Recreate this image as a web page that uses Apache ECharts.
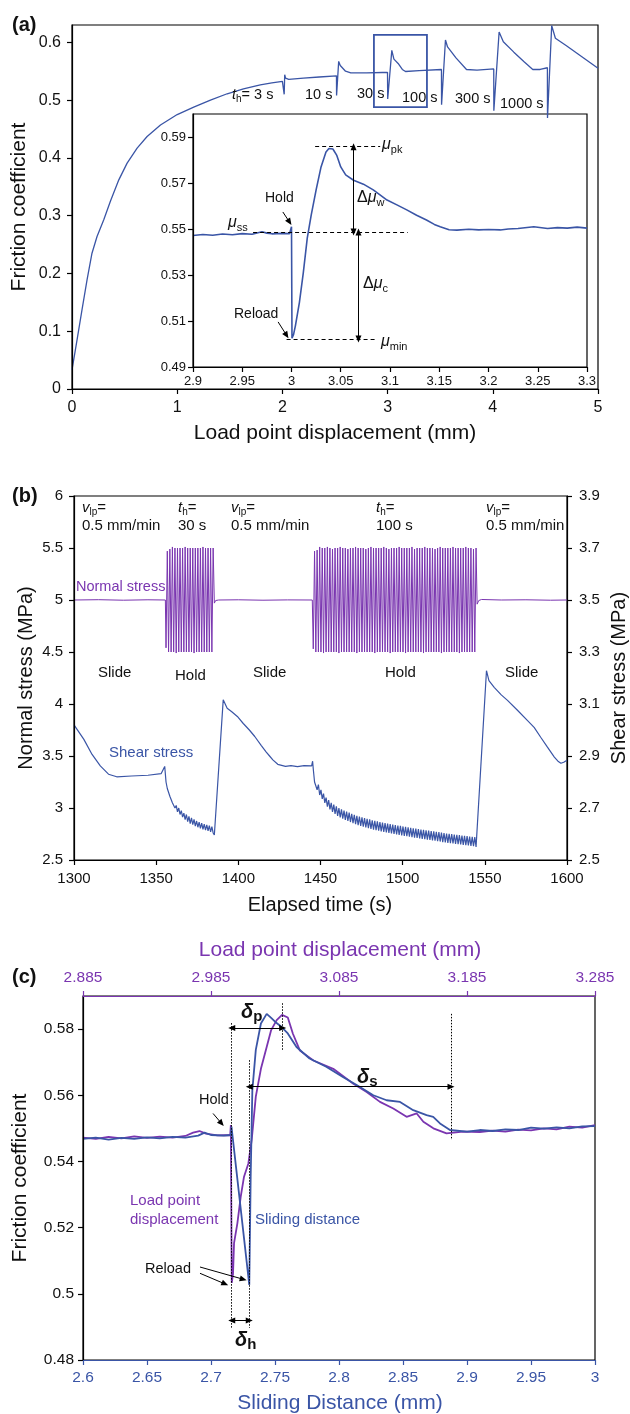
<!DOCTYPE html>
<html>
<head>
<meta charset="utf-8">
<script src="https://cdn.jsdelivr.net/npm/echarts@6/dist/echarts.min.js"></script>
<style>
  html, body { margin: 0; padding: 0; background: #fff; }
  #chart { width: 630px; height: 1414px; }
</style>
</head>
<body>
<div id="chart"></div>
<script>
// ---------- panel (a): friction vs load point displacement ----------
const aDisp = [0, 0.048, 0.095, 0.143, 0.19, 0.238, 0.302, 0.365, 0.445, 0.524, 0.619, 0.714, 0.841, 1.0, 1.157, 1.316, 1.475, 1.63, 1.79, 1.9, 2.0, 2.016,
  2.017, 2.022, 2.03, 2.06, 2.2, 2.35, 2.514,
  2.515, 2.535, 2.55, 2.6, 2.65, 2.8, 2.95, 2.999,
  3.0, 3.001, 3.04, 3.06, 3.1, 3.14, 3.17, 3.3, 3.512,
  3.513, 3.55, 3.57, 3.65, 3.75, 3.85, 4.009,
  4.01, 4.06, 4.1, 4.2, 4.3, 4.38, 4.45, 4.519,
  4.52, 4.56, 4.595, 4.7, 4.8, 4.9, 5.0];
const aFric = [0.033, 0.085, 0.137, 0.189, 0.235, 0.264, 0.293, 0.325, 0.362, 0.391, 0.417, 0.437, 0.457, 0.475, 0.488, 0.5, 0.511, 0.5195, 0.5265, 0.53, 0.5325, 0.533,
  0.510, 0.544, 0.538, 0.536, 0.538, 0.540, 0.542,
  0.508, 0.567, 0.560, 0.550, 0.547, 0.5472, 0.5478, 0.548,
  0.551, 0.502, 0.586, 0.571, 0.5635, 0.553, 0.5495, 0.551, 0.553,
  0.492, 0.604, 0.592, 0.573, 0.553, 0.552, 0.554,
  0.4815, 0.618, 0.601, 0.583, 0.566, 0.553, 0.553, 0.556,
  0.469, 0.629, 0.607, 0.594, 0.581, 0.568, 0.555];
const holdNames = ['3 s', '10 s', '30 s', '100 s', '300 s', '1000 s'];
const aXTicks = [0, 1, 2, 3, 4, 5];
const aYTicks = [0, 0.1, 0.2, 0.3, 0.4, 0.5, 0.6];

// inset of (a)
const insetDisp = [2.9, 2.91, 2.92, 2.93, 2.94, 2.95, 2.96, 2.965, 2.97, 2.975, 2.98, 2.99, 2.998, 3.0, 3.0005, 3.002, 3.004, 3.008, 3.012, 3.016,
  3.02, 3.025, 3.03, 3.035, 3.038, 3.042, 3.046, 3.05, 3.055, 3.063, 3.073, 3.083, 3.097, 3.107, 3.117, 3.127, 3.137, 3.145, 3.151, 3.16,
  3.168, 3.18, 3.19, 3.2, 3.212, 3.22, 3.23, 3.246, 3.26, 3.27, 3.28, 3.29, 3.3];
const insetFric = [0.5472, 0.5476, 0.5473, 0.5478, 0.5475, 0.548, 0.5477, 0.5483, 0.5488, 0.5482, 0.5479, 0.5481, 0.548, 0.551, 0.5025, 0.504, 0.508, 0.518, 0.531, 0.546,
  0.556, 0.567, 0.577, 0.5835, 0.585, 0.5848, 0.582, 0.577, 0.5735, 0.5712, 0.5695, 0.567, 0.5626, 0.5605, 0.5583, 0.556, 0.5539, 0.552, 0.551, 0.5497,
  0.5495, 0.5499, 0.5496, 0.5498, 0.5496, 0.55, 0.5502, 0.551, 0.5502, 0.5506, 0.5504, 0.5508, 0.5504];
const insetXTicks = [2.9, 2.95, 3, 3.05, 3.1, 3.15, 3.2, 3.25, 3.3];
const insetYTicks = [0.49, 0.51, 0.53, 0.55, 0.57, 0.59];

// ---------- panel (b): stresses vs elapsed time ----------
const normSlide1T = [1300, 1315, 1330, 1345, 1355.6];
const normSlide1V = [5.0, 5.003, 4.998, 5.002, 5.0];
const normSlide2T = [1385.4, 1386.2, 1388, 1400, 1415, 1430, 1445.0];
const normSlide2V = [4.97, 4.995, 5.0, 5.002, 4.998, 5.001, 5.0];
const normSlide3T = [1545.3, 1546.3, 1548, 1560, 1575, 1590, 1600];
const normSlide3V = [4.96, 4.995, 5.005, 5.0, 5.002, 4.998, 5.0];

const hold1Start = 1356.0, hold1Step = 0.775;
const hold1Normal = [4.54, 5.47, 4.5, 5.49, 4.5, 5.51, 4.5, 5.5, 4.49, 5.5, 4.5, 5.5, 4.5, 5.5, 4.5, 5.51, 4.5, 5.5, 4.5,
  5.5, 4.5, 5.5, 4.49, 5.5, 4.5, 5.5, 4.5, 5.5, 4.5, 5.51, 4.5, 5.5, 4.5, 5.5, 4.5, 5.5, 4.5, 5.5];
const hold1Shear = [2.80, 2.775, 2.77, 2.745, 2.745, 2.72, 2.725, 2.70, 2.71, 2.685, 2.70, 2.675, 2.69, 2.665, 2.68, 2.655, 2.675, 2.648, 2.668,
  2.64, 2.662, 2.636, 2.656, 2.63, 2.65, 2.626, 2.646, 2.622, 2.642, 2.618, 2.638, 2.615, 2.635, 2.612, 2.632, 2.608, 2.628, 2.604];

const hold2Start = 1445.6, hold2Step = 0.78;
const hold2Normal = [
  4.53, 5.47, 4.5, 5.48, 4.5, 5.51, 4.5, 5.5, 4.49, 5.5, 4.5, 5.51, 4.5, 5.5, 4.5, 5.49,
  4.5, 5.5, 4.5, 5.5, 4.49, 5.51, 4.5, 5.5, 4.5, 5.5, 4.5, 5.49, 4.5, 5.5, 4.5, 5.5,
  4.5, 5.51, 4.49, 5.5, 4.5, 5.5, 4.5, 5.5, 4.5, 5.49, 4.5, 5.5, 4.5, 5.51, 4.5, 5.5,
  4.49, 5.5, 4.5, 5.5, 4.5, 5.5, 4.5, 5.51, 4.5, 5.5, 4.5, 5.49, 4.49, 5.5, 4.5, 5.5,
  4.5, 5.5, 4.5, 5.51, 4.5, 5.5, 4.5, 5.5, 4.49, 5.5, 4.5, 5.5, 4.5, 5.51, 4.5, 5.49,
  4.5, 5.5, 4.5, 5.5, 4.5, 5.5, 4.49, 5.51, 4.5, 5.5, 4.5, 5.5, 4.5, 5.5, 4.5, 5.49,
  4.5, 5.5, 4.5, 5.51, 4.49, 5.5, 4.5, 5.5, 4.5, 5.5, 4.5, 5.5, 4.5, 5.51, 4.5, 5.5,
  4.5, 5.5, 4.49, 5.5, 4.5, 5.5, 4.5, 5.51, 4.5, 5.5, 4.5, 5.5, 4.5, 5.49, 4.5, 5.5];
const hold2Shear = [
  2.85, 2.80, 2.80, 2.77, 2.79, 2.75, 2.77, 2.735, 2.755, 2.72, 2.74, 2.705, 2.73, 2.695, 2.72, 2.685,
  2.713, 2.677, 2.706, 2.67, 2.70, 2.664, 2.695, 2.659, 2.69, 2.654, 2.686, 2.65, 2.682, 2.646, 2.678, 2.642,
  2.674, 2.638, 2.670, 2.634, 2.667, 2.631, 2.664, 2.628, 2.661, 2.625, 2.658, 2.622, 2.656, 2.620, 2.653, 2.617,
  2.651, 2.615, 2.649, 2.613, 2.646, 2.610, 2.644, 2.608, 2.642, 2.606, 2.640, 2.604, 2.638, 2.602, 2.636, 2.600,
  2.634, 2.598, 2.632, 2.596, 2.631, 2.595, 2.629, 2.593, 2.628, 2.592, 2.626, 2.590, 2.624, 2.588, 2.622, 2.586,
  2.621, 2.585, 2.619, 2.583, 2.617, 2.581, 2.616, 2.580, 2.614, 2.578, 2.613, 2.577, 2.611, 2.575, 2.610, 2.574,
  2.608, 2.572, 2.607, 2.571, 2.605, 2.569, 2.604, 2.568, 2.602, 2.566, 2.601, 2.565, 2.600, 2.564, 2.598, 2.562,
  2.597, 2.561, 2.596, 2.560, 2.594, 2.558, 2.593, 2.557, 2.592, 2.556, 2.590, 2.554, 2.589, 2.553, 2.588, 2.550];

const shearSlide1T = [1300, 1306, 1311, 1316, 1321, 1326, 1335, 1345, 1353, 1355.2];
const shearSlide1V = [3.02, 2.964, 2.906, 2.862, 2.83, 2.82, 2.823, 2.826, 2.832, 2.86];
const shearSlide2T = [1385.4, 1390.8, 1393.2, 1396, 1399.4, 1403, 1406.7, 1410, 1414, 1417, 1419, 1421, 1424, 1428.7, 1432, 1436, 1440, 1444.6, 1445.2];
const shearSlide2V = [2.596, 3.116, 3.084, 3.07, 3.052, 3.025, 3.0, 2.975, 2.94, 2.915, 2.9, 2.885, 2.868, 2.86, 2.863, 2.859, 2.863, 2.862, 2.88];
const shearSlide3T = [1545.2, 1551, 1552.5, 1555.7, 1560, 1563.8, 1570, 1576, 1580, 1584, 1588, 1592.3, 1594.5, 1596.3, 1598, 1600];
const shearSlide3V = [2.552, 3.228, 3.19, 3.164, 3.135, 3.114, 3.075, 3.036, 3.01, 2.972, 2.935, 2.896, 2.88, 2.872, 2.876, 2.884];

const bXTicks = [1300, 1350, 1400, 1450, 1500, 1550, 1600];
const bLeftTicks = [2.5, 3, 3.5, 4, 4.5, 5, 5.5, 6];
const bRightTicks = [2.5, 2.7, 2.9, 3.1, 3.3, 3.5, 3.7, 3.9];

// ---------- panel (c): friction vs sliding distance / load point displacement ----------
const cBlueX = [2.6, 2.61, 2.62, 2.63, 2.64, 2.65, 2.66, 2.67, 2.68, 2.69, 2.695, 2.7, 2.71, 2.7155, 2.716, 2.7299, 2.731, 2.7323, 2.735, 2.739,
  2.7435, 2.747, 2.751, 2.755, 2.76, 2.7668, 2.777, 2.79, 2.803, 2.8138, 2.8268, 2.8372, 2.8477, 2.858, 2.8684, 2.8736, 2.8789, 2.8867, 2.9, 2.91,
  2.92, 2.93, 2.94, 2.95, 2.96, 2.97, 2.98, 2.99, 3.0];
const cBlueY = [0.5468, 0.5472, 0.5466, 0.5471, 0.5468, 0.5473, 0.547, 0.5474, 0.5472, 0.5478, 0.5487, 0.548, 0.5478, 0.548, 0.5505, 0.5027, 0.5354, 0.5615, 0.5737, 0.5817,
  0.5846, 0.5834, 0.5819, 0.5807, 0.5787, 0.5746, 0.5711, 0.5686, 0.5655, 0.5631, 0.56, 0.5585, 0.558, 0.5555, 0.554, 0.5535, 0.5515, 0.5495, 0.549, 0.5495,
  0.5492, 0.5497, 0.5495, 0.5502, 0.5499, 0.5503, 0.55, 0.5506, 0.5507];
const cPurpleX = [2.885, 2.895, 2.905, 2.915, 2.925, 2.935, 2.945, 2.955, 2.965, 2.971, 2.976, 2.981, 2.99, 3.0, 3.0005, 3.0012, 3.0022, 3.003, 3.0056, 3.0082,
  3.0108, 3.0142, 3.0168, 3.02, 3.024, 3.0285, 3.032, 3.0363, 3.0405, 3.045, 3.049, 3.0545, 3.065, 3.0805, 3.0962, 3.1066, 3.117, 3.1274, 3.1378, 3.1457,
  3.1509, 3.1587, 3.169, 3.182, 3.195, 3.205, 3.215, 3.225, 3.235, 3.245, 3.255, 3.265, 3.275, 3.285];
const cPurpleY = [0.5472, 0.5468, 0.5474, 0.547, 0.5476, 0.5471, 0.5475, 0.5472, 0.5477, 0.5487, 0.5492, 0.5484, 0.5479, 0.548, 0.551, 0.5033, 0.506, 0.5153, 0.5213, 0.5293,
  0.5354, 0.5394, 0.5465, 0.5596, 0.568, 0.5746, 0.5797, 0.5827, 0.5843, 0.5835, 0.5786, 0.5735, 0.5705, 0.568, 0.5635, 0.561, 0.558, 0.556, 0.5535, 0.5545,
  0.552, 0.55, 0.5485, 0.549, 0.5489, 0.5493, 0.549, 0.5496, 0.5494, 0.55, 0.5497, 0.5505, 0.5502, 0.551];
const cXTicks = [2.6, 2.65, 2.7, 2.75, 2.8, 2.85, 2.9, 2.95, 3];
const cTopTicks = [2.885, 2.985, 3.085, 3.185, 3.285];
const cYTicks = [0.48, 0.5, 0.52, 0.54, 0.56, 0.58];

// ---------- helpers ----------
const FONT = '"Liberation Sans", Arial, sans-serif';
const BLUE = '#3a55a6';
const PURPLE = '#7a35b0';
const INK = '#111';

function zip(xs, ys) { return xs.map((x, i) => [x, ys[i]]); }
function sampled(t0, dt, vals) { return vals.map((v, i) => [t0 + i * dt, v]); }

function valAxis(o) {
  const c = o.color || '#000';
  return {
    type: 'value', gridIndex: o.grid, position: o.pos, min: o.min, max: o.max,
    axisLine: { show: true, onZero: false, lineStyle: { color: c, width: 1.2 } },
    axisTick: { show: true, length: 5, customValues: o.ticks, lineStyle: { color: c, width: 1.2 } },
    axisLabel: {
      customValues: o.ticks, margin: o.margin, fontSize: o.size, color: o.labelColor || INK, fontFamily: FONT,
      formatter: (v) => String(v) // no thousands separators (1300, not 1,300)
    },
    splitLine: { show: false },
    z: 5
  };
}

function rich(size, color) {
  const sub = Math.round(size * 0.68);
  return {
    n: { fontSize: size, lineHeight: size + 4, fill: color, fontFamily: FONT },
    i: { fontSize: size, lineHeight: size + 4, fill: color, fontFamily: FONT, fontStyle: 'italic' },
    s: { fontSize: sub, lineHeight: sub, fill: color, fontFamily: FONT, verticalAlign: 'bottom' },
    b: { fontSize: size, lineHeight: size + 4, fill: color, fontFamily: FONT, fontStyle: 'italic', fontWeight: 'bold' },
    bs: { fontSize: sub + 1, lineHeight: sub + 1, fill: color, fontFamily: FONT, fontWeight: 'bold', verticalAlign: 'bottom' }
  };
}

function txt(x, y, text, o) {
  o = o || {};
  const size = o.size || 15, color = o.color || INK;
  return {
    type: 'text', x: x, y: y, rotation: o.rot || 0, silent: true, z: 100,
    style: {
      text: text, fontFamily: FONT, fontSize: size, fill: color,
      fontWeight: o.bold ? 'bold' : 'normal',
      align: o.align || 'left', verticalAlign: 'middle',
      rich: o.rich ? rich(size, color) : undefined
    }
  };
}

function seg(p1, p2, style, s1, s2) {
  return [{ coord: p1, symbol: s1 || 'none', lineStyle: style }, { coord: p2, symbol: s2 || 'none' }];
}
const DASH = { color: '#000', width: 1.2, type: [4, 3] };
const DOT = { color: '#000', width: 1, type: [1.5, 1.5] };
const SOLID = { color: '#000', width: 1, type: 'solid' };
const UP = Math.PI / 2;

// ---------- chart ----------
const chart = echarts.init(document.getElementById('chart'), null, { renderer: 'canvas' });

const normalData = [].concat(
  zip(normSlide1T, normSlide1V), sampled(hold1Start, hold1Step, hold1Normal),
  zip(normSlide2T, normSlide2V), sampled(hold2Start, hold2Step, hold2Normal),
  zip(normSlide3T, normSlide3V));
const shearData = [].concat(
  zip(shearSlide1T, shearSlide1V), sampled(hold1Start, hold1Step, hold1Shear),
  zip(shearSlide2T, shearSlide2V), sampled(hold2Start, hold2Step, hold2Shear),
  zip(shearSlide3T, shearSlide3V));

const holdLabelPos = [[232, 95], [305, 95], [357, 94], [402, 98], [455, 99], [500, 104]];

const option = {
  animation: false,
  backgroundColor: '#fff',
  textStyle: { fontFamily: FONT },
  grid: [
    { left: 72, top: 25, width: 526, height: 364, show: true, borderColor: '#000', borderWidth: 1.2 },
    { left: 193, top: 114, width: 394, height: 253, show: true, borderColor: '#000', borderWidth: 1.2, backgroundColor: '#fff' },
    { left: 74, top: 496, width: 493, height: 364, show: true, borderColor: '#000', borderWidth: 1.2 },
    { left: 83, top: 996, width: 512, height: 364, show: true, borderColor: '#000', borderWidth: 1.2 }
  ],
  xAxis: [
    valAxis({ grid: 0, pos: 'bottom', min: 0, max: 5, ticks: aXTicks, margin: 11, size: 16 }),
    valAxis({ grid: 1, pos: 'bottom', min: 2.9, max: 3.3, ticks: insetXTicks, margin: 8, size: 13 }),
    valAxis({ grid: 2, pos: 'bottom', min: 1300, max: 1600, ticks: bXTicks, margin: 11, size: 15 }),
    valAxis({ grid: 3, pos: 'bottom', min: 2.6, max: 3.0, ticks: cXTicks, margin: 10, size: 15.5, color: BLUE, labelColor: BLUE }),
    valAxis({ grid: 3, pos: 'top', min: 2.885, max: 3.285, ticks: cTopTicks, margin: 10, size: 15.5, color: PURPLE, labelColor: PURPLE })
  ],
  yAxis: [
    valAxis({ grid: 0, pos: 'left', min: 0, max: 0.63, ticks: aYTicks, margin: 11, size: 16 }),
    valAxis({ grid: 1, pos: 'left', min: 0.49, max: 0.60, ticks: insetYTicks, margin: 7, size: 13 }),
    valAxis({ grid: 2, pos: 'left', min: 2.5, max: 6, ticks: bLeftTicks, margin: 11, size: 15 }),
    valAxis({ grid: 2, pos: 'right', min: 2.5, max: 3.9, ticks: bRightTicks, margin: 12, size: 15 }),
    valAxis({ grid: 3, pos: 'left', min: 0.48, max: 0.59, ticks: cYTicks, margin: 9, size: 15.5 })
  ],
  series: [
    {
      name: 'friction (a)', type: 'line', xAxisIndex: 0, yAxisIndex: 0, showSymbol: false,
      data: zip(aDisp, aFric), lineStyle: { color: BLUE, width: 1.3 }, z: 4,
      markArea: {
        silent: true,
        itemStyle: { color: 'rgba(0,0,0,0)', borderColor: BLUE, borderWidth: 1.8 },
        data: [[{ coord: [2.87, 0.613] }, { coord: [3.374, 0.488] }]]
      }
    },
    {
      name: 'inset', type: 'line', xAxisIndex: 1, yAxisIndex: 1, showSymbol: false,
      data: zip(insetDisp, insetFric), lineStyle: { color: BLUE, width: 1.6 },
      markLine: {
        silent: true, symbolSize: [6, 7], label: { show: false },
        data: [
          seg([3.024, 0.5858], [3.09, 0.5858], DASH),
          seg([2.961, 0.5487], [3.118, 0.5487], DASH),
          seg([2.995, 0.5022], [3.087, 0.5022], DASH),
          seg([3.063, 0.5858], [3.063, 0.5487], SOLID, 'triangle', 'triangle'),
          seg([3.068, 0.5487], [3.068, 0.5022], SOLID, 'triangle', 'triangle'),
          seg([2.9912, 0.5574], [2.998, 0.553], SOLID, 'none', 'triangle'),
          seg([2.9864, 0.5096], [2.995, 0.5038], SOLID, 'none', 'triangle')
        ]
      }
    },
    {
      name: 'Normal stress', type: 'line', xAxisIndex: 2, yAxisIndex: 2, showSymbol: false,
      data: normalData, lineStyle: { color: PURPLE, width: 1 }
    },
    {
      name: 'Shear stress', type: 'line', xAxisIndex: 2, yAxisIndex: 3, showSymbol: false,
      data: shearData, lineStyle: { color: BLUE, width: 1.2 }
    },
    {
      name: 'Load point displacement', type: 'line', xAxisIndex: 4, yAxisIndex: 4, showSymbol: false,
      data: zip(cPurpleX, cPurpleY), lineStyle: { color: PURPLE, width: 1.8 }
    },
    {
      name: 'Sliding distance', type: 'line', xAxisIndex: 3, yAxisIndex: 4, showSymbol: false,
      data: zip(cBlueX, cBlueY), lineStyle: { color: BLUE, width: 1.8 },
      markLine: {
        silent: true, symbolSize: [6, 7], label: { show: false },
        data: [
          seg([2.7162, 0.5818], [2.7162, 0.4897], DOT),
          seg([2.7299, 0.5706], [2.7299, 0.4897], DOT),
          seg([2.756, 0.5878], [2.756, 0.5737], DOT),
          seg([2.8875, 0.5846], [2.8875, 0.5465], DOT),
          seg([2.7162, 0.5803], [2.756, 0.5803], SOLID, 'triangle', 'triangle'),
          seg([2.7299, 0.5626], [2.8875, 0.5626], SOLID, 'triangle', 'triangle'),
          seg([2.7162, 0.4919], [2.7299, 0.4919], SOLID, 'triangle', 'triangle'),
          seg([2.7016, 0.5545], [2.7082, 0.5515], SOLID, 'none', 'triangle'),
          seg([2.6914, 0.5081], [2.7252, 0.5044], SOLID, 'none', 'triangle'),
          seg([2.6914, 0.5062], [2.7109, 0.503], SOLID, 'none', 'triangle')
        ]
      }
    }
  ],
  graphic: [
    // (a)
    txt(12, 25, '(a)', { size: 20, bold: true }),
    txt(19, 207, 'Friction coefficient', { size: 21, align: 'center', rot: UP }),
    txt(335, 433, 'Load point displacement (mm)', { size: 21, align: 'center' }),
    txt(holdLabelPos[0][0], holdLabelPos[0][1], '{i|t}{s|h}{n|= ' + holdNames[0] + '}', { size: 14.5, rich: true }),
    ...holdNames.slice(1).map((n, k) => txt(holdLabelPos[k + 1][0], holdLabelPos[k + 1][1], n, { size: 14.5 })),
    txt(382, 145, '{i|μ}{s|pk}', { size: 16, rich: true }),
    txt(357, 198, '{n|Δ}{i|μ}{s|w}', { size: 16, rich: true }),
    txt(363, 284, '{n|Δ}{i|μ}{s|c}', { size: 16, rich: true }),
    txt(228, 223, '{i|μ}{s|ss}', { size: 16, rich: true }),
    txt(381, 342, '{i|μ}{s|min}', { size: 16, rich: true }),
    txt(265, 198, 'Hold', { size: 14 }),
    txt(234, 314, 'Reload', { size: 14 }),
    // (b)
    txt(12, 496, '(b)', { size: 20, bold: true }),
    txt(26, 678, 'Normal stress (MPa)', { size: 20, align: 'center', rot: UP }),
    txt(619, 678, 'Shear stress (MPa)', { size: 20, align: 'center', rot: UP }),
    txt(320, 905, 'Elapsed time (s)', { size: 20, align: 'center' }),
    txt(82, 508, '{i|v}{s|lp}{n|=}', { size: 15, rich: true }),
    txt(82, 526, '0.5 mm/min', { size: 15 }),
    txt(178, 508, '{i|t}{s|h}{n|=}', { size: 15, rich: true }),
    txt(178, 526, '30 s', { size: 15 }),
    txt(231, 508, '{i|v}{s|lp}{n|=}', { size: 15, rich: true }),
    txt(231, 526, '0.5 mm/min', { size: 15 }),
    txt(376, 508, '{i|t}{s|h}{n|=}', { size: 15, rich: true }),
    txt(376, 526, '100 s', { size: 15 }),
    txt(486, 508, '{i|v}{s|lp}{n|=}', { size: 15, rich: true }),
    txt(486, 526, '0.5 mm/min', { size: 15 }),
    txt(76, 587, 'Normal stress', { size: 14.5, color: PURPLE }),
    txt(109, 753, 'Shear stress', { size: 15, color: BLUE }),
    txt(98, 673, 'Slide', { size: 15 }),
    txt(175, 676, 'Hold', { size: 15 }),
    txt(253, 673, 'Slide', { size: 15 }),
    txt(385, 673, 'Hold', { size: 15 }),
    txt(505, 673, 'Slide', { size: 15 }),
    // (c)
    txt(12, 977, '(c)', { size: 20, bold: true }),
    txt(340, 950, 'Load point displacement (mm)', { size: 21, align: 'center', color: PURPLE }),
    txt(340, 1403, 'Sliding Distance (mm)', { size: 21, align: 'center', color: BLUE }),
    txt(20, 1178, 'Friction coefficient', { size: 21, align: 'center', rot: UP }),
    txt(241, 1012, '{b|δ}{bs|p}', { size: 20, rich: true }),
    txt(357, 1077, '{b|δ}{bs|s}', { size: 20, rich: true }),
    txt(235, 1340, '{b|δ}{bs|h}', { size: 20, rich: true }),
    txt(199, 1100, 'Hold', { size: 14.5 }),
    txt(130, 1201, 'Load point', { size: 15, color: PURPLE }),
    txt(130, 1220, 'displacement', { size: 15, color: PURPLE }),
    txt(255, 1220, 'Sliding distance', { size: 15, color: BLUE }),
    txt(145, 1269, 'Reload', { size: 14.5 })
  ]
};

chart.setOption(option);
</script>
</body>
</html>
